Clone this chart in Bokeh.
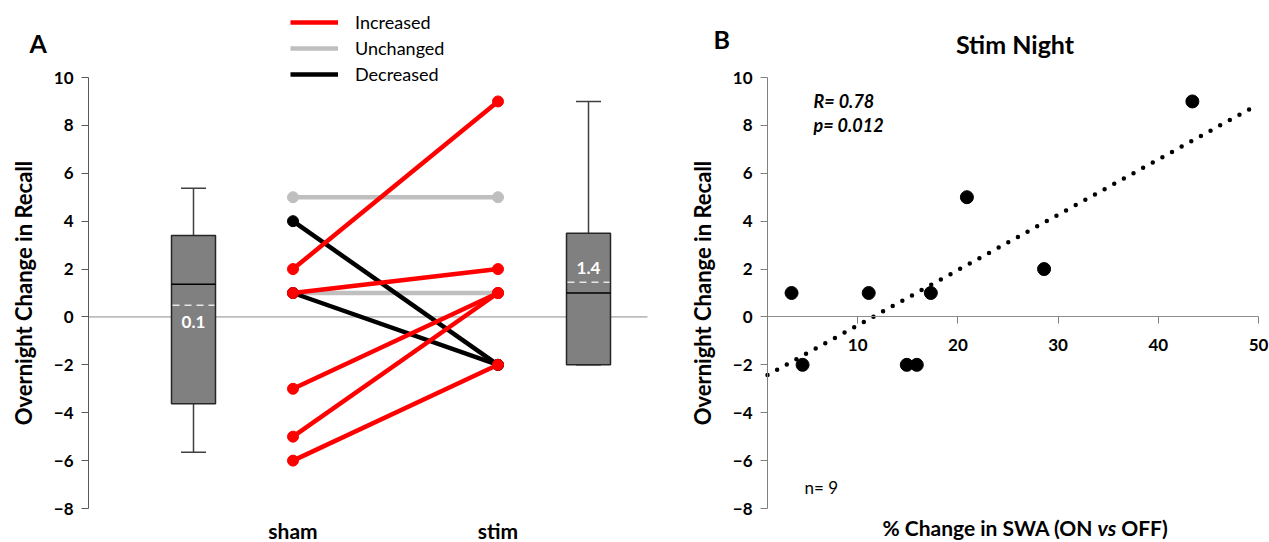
import numpy as np
from bokeh.plotting import figure
from bokeh.models import (Range1d, Label, Legend, LegendItem, FixedTicker, LinearAxis)
from bokeh.layouts import row
from bokeh.core.properties import value
from bokeh.embed import file_html
from bokeh.resources import INLINE

# ---------------- Panel A data ----------------
sham = [5, 2, 4, 1, 1, 1, -3, -5, -6]
stim = [5, 9, -2, 2, 1, -2, 1, 1, -2]
conditions = ["sham", "stim"]
box_lower = [-5.65, -2.0]
box_q1 = [-3.63, -2.0]
box_median = [1.37, 1.0]
box_mean_line = [0.49, 1.45]
box_q3 = [3.4, 3.5]
box_upper = [5.37, 9.0]
mean_labels = ["0.1", "1.4"]
y_ticks = [-8, -6, -4, -2, 0, 2, 4, 6, 8, 10]
legend_labels = ["Increased", "Unchanged", "Decreased"]

# ---------------- Panel B data ----------------
swa_change = [3.4, 4.5, 11.1, 14.9, 15.9, 17.3, 20.9, 28.6, 43.4]
recall_change = [1, -2, 1, -2, -2, 1, 5, 2, 9]
x_ticks_b = [10, 20, 30, 40, 50]
r_text = "R= 0.78"
p_text = "p= 0.012"
n_text = "n= 9"

FONT = "Lato"
colors = {"Increased": "#FF0000", "Unchanged": "#BFBFBF", "Decreased": "#000000"}
Y_LO, Y_HI = -8, 10
# pixel layout: y=10 at 77px, y=-8 at 508px, canvas 542px tall
PX_PER_Y = 431 / 18.0
Y_RANGE = (Y_LO - 34 / PX_PER_Y, Y_HI + 77 / PX_PER_Y)


def make_fig(width, x_range):
    p = figure(width=width, height=542, x_range=Range1d(*x_range), y_range=Range1d(*Y_RANGE),
               output_backend="svg", toolbar_location=None, x_axis_location=None,
               y_axis_location=None, min_border=0, min_border_left=0, min_border_right=0,
               min_border_top=0, min_border_bottom=0)
    p.title.visible = False
    p.grid.visible = False
    p.outline_line_color = None
    return p


def add_yaxis(p, loc, line_color):
    ax = LinearAxis(fixed_location=loc, bounds=(Y_LO, Y_HI), ticker=FixedTicker(ticks=y_ticks))
    ax.axis_line_color = line_color
    ax.major_tick_line_color = line_color
    ax.minor_tick_line_color = None
    ax.major_tick_out = 7
    ax.major_tick_in = 0
    ax.major_label_standoff = 8
    ax.major_label_text_font = FONT
    ax.major_label_text_font_style = "bold"
    ax.major_label_text_font_size = "17px"
    ax.major_label_text_color = "black"
    ax.axis_label = "Overnight Change in Recall"
    ax.axis_label_text_font = FONT
    ax.axis_label_text_font_style = "bold"
    ax.axis_label_text_font_size = "22px"
    ax.axis_label_text_color = "black"
    ax.axis_label_standoff = 14
    p.add_layout(ax, "left")


def add_label(p, x, y, text, size, style="bold", align="left"):
    p.add_layout(Label(x=x, y=y, text=text, text_font=FONT, text_font_style=style,
                       text_font_size=size, text_align=align, text_baseline="alphabetic",
                       text_color="black"))


# ================= Panel A =================
# 100 px per x unit, x=0 at 88px
pA = make_fig(690, (-0.88, 6.02))
add_yaxis(pA, 0, "#595959")

box_x = np.array([1.05, 5.0])
pair_x = [2.045, 4.095]
bw = 0.44
cap = 0.25

pA.segment(x0=[0], y0=[0], x1=[5.59], y1=[0], line_color="#8C8C8C", line_width=1)

# whiskers
pA.segment(x0=box_x, y0=box_q3, x1=box_x, y1=box_upper, line_color="#404040", line_width=1.5)
pA.segment(x0=box_x, y0=box_q1, x1=box_x, y1=box_lower, line_color="#404040", line_width=1.5)
pA.segment(x0=box_x - cap / 2, y0=box_upper, x1=box_x + cap / 2, y1=box_upper,
           line_color="#404040", line_width=1.5)
pA.segment(x0=box_x - cap / 2, y0=box_lower, x1=box_x + cap / 2, y1=box_lower,
           line_color="#404040", line_width=1.5)
# boxes
pA.quad(left=box_x - bw / 2, right=box_x + bw / 2, bottom=box_q1, top=box_q3,
        fill_color="#808080", line_color="#262626", line_width=1.5)
pA.segment(x0=box_x - bw / 2, y0=box_median, x1=box_x + bw / 2, y1=box_median,
           line_color="black", line_width=1.5)
pA.segment(x0=box_x - bw / 2 + 0.01, y0=box_mean_line, x1=box_x + bw / 2 - 0.01,
           y1=box_mean_line, line_color="#E6E6E6", line_width=1.5, line_dash="7 5")
label_y = [m - 0.72 if med > m else m + 0.61 for m, med in zip(box_mean_line, box_median)]
pA.text(x=box_x, y=label_y, text=mean_labels, text_color="white",
        text_font=value(FONT), text_font_style="bold", text_font_size="17px",
        text_align="center", text_baseline="middle")

# paired lines
cats = ["Increased" if t > s else ("Unchanged" if t == s else "Decreased")
        for s, t in zip(sham, stim)]
seg_renderers = {}
for cat in ["Unchanged", "Decreased", "Increased"]:
    s_vals = [s for s, c in zip(sham, cats) if c == cat]
    t_vals = [t for t, c in zip(stim, cats) if c == cat]
    n = len(s_vals)
    seg_renderers[cat] = pA.segment(x0=[pair_x[0]] * n, y0=s_vals, x1=[pair_x[1]] * n,
                                    y1=t_vals, line_color=colors[cat], line_width=4.5)
    pA.scatter(x=[pair_x[0]] * n + [pair_x[1]] * n, y=s_vals + t_vals, size=11,
               fill_color=colors[cat], line_color=colors[cat])

legend = Legend(items=[LegendItem(label=l, renderers=[seg_renderers[l]]) for l in legend_labels],
                location=(290, 457), orientation="vertical", border_line_color=None,
                background_fill_alpha=0, padding=0, margin=0, spacing=4,
                glyph_width=48, glyph_height=20, label_height=20, label_standoff=17,
                label_text_font=FONT, label_text_font_size="18px",
                label_text_color="black")
pA.add_layout(legend)

add_label(pA, -0.59, 11.46, "A", "25px")
for xx, name in zip(pair_x, conditions):
    add_label(pA, xx, -8.92, name, "21px", align="center")

# ================= Panel B =================
# ~10.02 px per x unit, x=1 at 767px (page), canvas starts at 690px
PX_PER_X = 491 / 49.0
pB = make_fig(579, (1 - 77 / PX_PER_X, 50 + 11 / PX_PER_X))
add_yaxis(pB, 1, "#808080")

xax = LinearAxis(fixed_location=0, bounds=(1, 50), ticker=FixedTicker(ticks=x_ticks_b))
xax.axis_line_color = "#8C8C8C"
xax.axis_line_width = 1.2
xax.major_tick_line_color = "#808080"
xax.minor_tick_line_color = None
xax.major_tick_out = 7
xax.major_tick_in = 0
xax.major_label_standoff = 15
xax.major_label_text_font = FONT
xax.major_label_text_font_style = "bold"
xax.major_label_text_font_size = "17px"
xax.major_label_text_color = "black"
pB.add_layout(xax, "below")

coef = np.polyfit(swa_change, recall_change, 1)
xs = np.array([1.0, 50.0])
pB.line(xs, np.polyval(coef, xs), line_color="black", line_width=4.5,
        line_dash="0 11", line_cap="round")
pB.scatter(swa_change, recall_change, size=13, fill_color="black", line_color="black")

add_label(pB, -4.39, 11.59, "B", "25px")
add_label(pB, 25.7, 11.4, "Stim Night", "25px", align="center")
add_label(pB, 5.59, 9.0, r_text, "18px", style="bold italic")
add_label(pB, 5.59, 8.01, p_text, "18px", style="bold italic")
add_label(pB, 4.69, -7.12, n_text, "17px", style="normal")
add_label(pB, 33.5, -8.78, "% Change in SWA (ON", "21px", align="right")
add_label(pB, 34.87, -8.78, "vs", "21px", style="bold italic", align="center")
add_label(pB, 36.3, -8.78, "OFF)", "21px", align="left")

layout = row(pA, pB)
open("out.html", "w").write(file_html(layout, INLINE))
